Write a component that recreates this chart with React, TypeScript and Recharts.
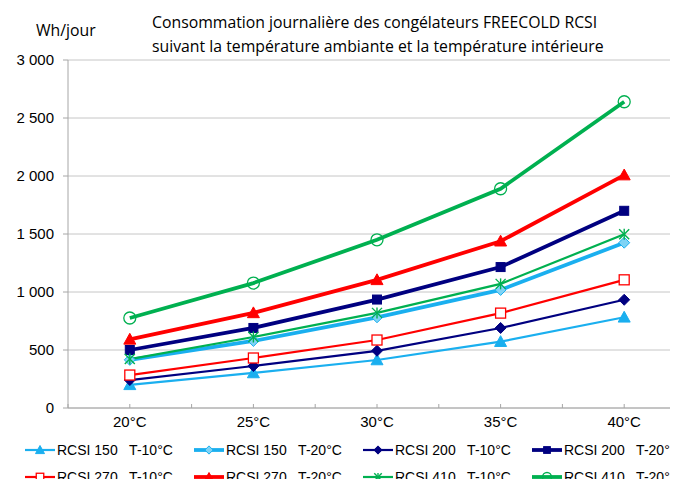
import React from "react";
import { LineChart, Line, XAxis, YAxis, CartesianGrid, Legend } from "recharts";

const temps = [20, 25, 30, 35, 40];
const xTicks = [17.5, 20, 22.5, 25, 27.5, 30, 32.5, 35, 37.5, 40, 42.5];
const yTicks = [0, 500, 1000, 1500, 2000, 2500, 3000];

const rcsi150T10 = [200, 302, 414, 572, 782];
const rcsi150T20 = [415, 578, 782, 1018, 1425];
const rcsi200T10 = [241, 362, 493, 690, 933];
const rcsi200T20 = [500, 690, 935, 1215, 1700];
const rcsi270T10 = [284, 431, 586, 818, 1105];
const rcsi270T20 = [592, 820, 1105, 1438, 2008];
const rcsi410T10 = [422, 612, 820, 1070, 1497];
const rcsi410T20 = [776, 1077, 1450, 1890, 2640];

const LIGHT = "#1AAFEF";
const NAVY = "#000080";
const RED = "#FF0000";
const GREEN = "#00B050";

type Shape = "triangle" | "diamond" | "square" | "openSquare" | "star" | "openCircle";

interface SeriesDef {
  key: string;
  name: string;
  values: number[];
  color: string;
  width: number;
  shape: Shape;
  markerFill?: string;
}

const series: SeriesDef[] = [
  { key: "a", name: "RCSI 150   T-10°C", values: rcsi150T10, color: LIGHT, width: 2.2, shape: "triangle" },
  { key: "b", name: "RCSI 150   T-20°C", values: rcsi150T20, color: LIGHT, width: 3.8, shape: "diamond", markerFill: "#7FD3F5" },
  { key: "c", name: "RCSI 200   T-10°C", values: rcsi200T10, color: NAVY, width: 2.2, shape: "diamond" },
  { key: "d", name: "RCSI 200   T-20°C", values: rcsi200T20, color: NAVY, width: 3.8, shape: "square" },
  { key: "e", name: "RCSI 270   T-10°C", values: rcsi270T10, color: RED, width: 2.2, shape: "openSquare" },
  { key: "f", name: "RCSI 270   T-20°C", values: rcsi270T20, color: RED, width: 3.8, shape: "triangle" },
  { key: "g", name: "RCSI 410   T-10°C", values: rcsi410T10, color: GREEN, width: 2.2, shape: "star" },
  { key: "h", name: "RCSI 410   T-20°C", values: rcsi410T20, color: GREEN, width: 3.8, shape: "openCircle" },
];

const data = temps.map((t, i) => {
  const row: Record<string, number> = { t };
  series.forEach((s) => {
    row[s.key] = s.values[i];
  });
  return row;
});

function Marker({ cx, cy, shape, color, fill, scale = 1 }: { cx: number; cy: number; shape: Shape; color: string; fill?: string; scale?: number }) {
  const k = scale;
  switch (shape) {
    case "triangle": {
      const s = 6 * k;
      return <polygon points={`${cx},${cy - s} ${cx + s},${cy + s * 0.8} ${cx - s},${cy + s * 0.8}`} fill={color} stroke={color} strokeWidth={1} />;
    }
    case "diamond": {
      const s = 5.5 * k;
      return <polygon points={`${cx},${cy - s} ${cx + s},${cy} ${cx},${cy + s} ${cx - s},${cy}`} fill={fill || color} stroke={color} strokeWidth={1} />;
    }
    case "square": {
      const s = 4.5 * k;
      return <rect x={cx - s} y={cy - s} width={2 * s} height={2 * s} fill={color} stroke={color} strokeWidth={1} />;
    }
    case "openSquare": {
      const s = 5 * k;
      return <rect x={cx - s} y={cy - s} width={2 * s} height={2 * s} fill="#fff" stroke={color} strokeWidth={1.3} />;
    }
    case "star": {
      const s = 5 * k;
      return (
        <g stroke={color} strokeWidth={1.4}>
          <line x1={cx - s} y1={cy - s} x2={cx + s} y2={cy + s} />
          <line x1={cx - s} y1={cy + s} x2={cx + s} y2={cy - s} />
          <line x1={cx} y1={cy - s * 1.1} x2={cx} y2={cy + s * 1.1} />
        </g>
      );
    }
    case "openCircle": {
      const r = 6 * k;
      return <circle cx={cx} cy={cy} r={r} fill="none" stroke={color} strokeWidth={1.3} />;
    }
  }
  return null;
}

const XTick = (props: any) => {
  const { x, y, payload } = props;
  const v = payload.value as number;
  const label = v % 5 === 0 ? `${v}°C` : "";
  return (
    <g>
      <line x1={x} x2={x} y1={y - 4} y2={y} stroke="#A6A6A6" strokeWidth={1} />
      {label && (
        <text x={x} y={y + 19} textAnchor="middle" fontSize={15} fontFamily="'Liberation Sans', Arial, sans-serif" fill="#000">
          {label}
        </text>
      )}
    </g>
  );
};

const LegendContent = () => (
  <div style={{ position: "relative", width: 720, height: 50 }}>
    {series.map((s, i) => (
      <div
        key={s.key}
        style={{
          position: "absolute",
          left: 25 + (i % 4) * 169,
          top: i < 4 ? 6 : 33,
          height: 14,
          display: "flex",
          alignItems: "center",
        }}
      >
        <svg width={30} height={14} style={{ flex: "none" }}>
          <line x1={0} x2={30} y1={7} y2={7} stroke={s.color} strokeWidth={s.width} />
          <Marker cx={15} cy={7} shape={s.shape} color={s.color} fill={s.markerFill} scale={0.75} />
        </svg>
        <span style={{ whiteSpace: "pre", fontSize: 14, fontFamily: "'Liberation Sans', Arial, sans-serif", color: "#000", marginLeft: 2, lineHeight: "14px" }}>
          {s.name}
        </span>
      </div>
    ))}
  </div>
);

const fmt = (v: number) => (v >= 1000 ? `${Math.floor(v / 1000)} ${String(v % 1000).padStart(3, "0")}` : `${v}`);

export default function App() {
  return (
    <div style={{ position: "relative", width: 678, height: 487, overflow: "hidden", margin: -8, background: "#fff" }}>
      <div style={{ position: "absolute", left: 36, top: 18, fontFamily: "'Open Sans', sans-serif", fontSize: 15.8, lineHeight: "24px", color: "#000" }}>
        Wh/jour
      </div>
      <div style={{ position: "absolute", left: 152, top: 10, fontFamily: "'Open Sans', sans-serif", fontSize: 15.8, lineHeight: "24px", color: "#000", whiteSpace: "nowrap" }}>
        Consommation journalière des congélateurs FREECOLD RCSI
        <br />
        suivant la température ambiante et la température intérieure
      </div>
      <LineChart width={720} height={487} data={data} margin={{ top: 60, right: 34, bottom: 0, left: 0 }} style={{ position: "absolute", left: 0, top: 0 }}>
        <CartesianGrid vertical={false} stroke="#C6C6C6" strokeWidth={1} />
        <XAxis
          dataKey="t"
          type="number"
          domain={[17.5, 42.5]}
          ticks={xTicks}
          interval={0}
          height={29}
          tickSize={0}
          tickMargin={0}
          tickLine={false}
          axisLine={{ stroke: "#A6A6A6" }}
          tick={<XTick />}
        />
        <YAxis
          domain={[0, 3000]}
          ticks={yTicks}
          interval={0}
          width={68}
          tickSize={5}
          tickMargin={9}
          tickFormatter={fmt}
          axisLine={{ stroke: "#A6A6A6" }}
          tickLine={{ stroke: "#A6A6A6" }}
          tick={{ fill: "#000", fontSize: 15, fontFamily: "'Liberation Sans', Arial, sans-serif" }}
        />
        <Legend verticalAlign="bottom" content={<LegendContent />} wrapperStyle={{ left: 0, width: 720, bottom: 0 }} />
        {series.map((s) => (
          <Line
            key={s.key}
            type="linear"
            dataKey={s.key}
            name={s.name}
            stroke={s.color}
            strokeWidth={s.width}
            isAnimationActive={false}
            dot={(p: any) => <Marker key={`${s.key}-${p.index}`} cx={p.cx} cy={p.cy} shape={s.shape} color={s.color} fill={s.markerFill} />}
            activeDot={false}
          />
        ))}
      </LineChart>
    </div>
  );
}
